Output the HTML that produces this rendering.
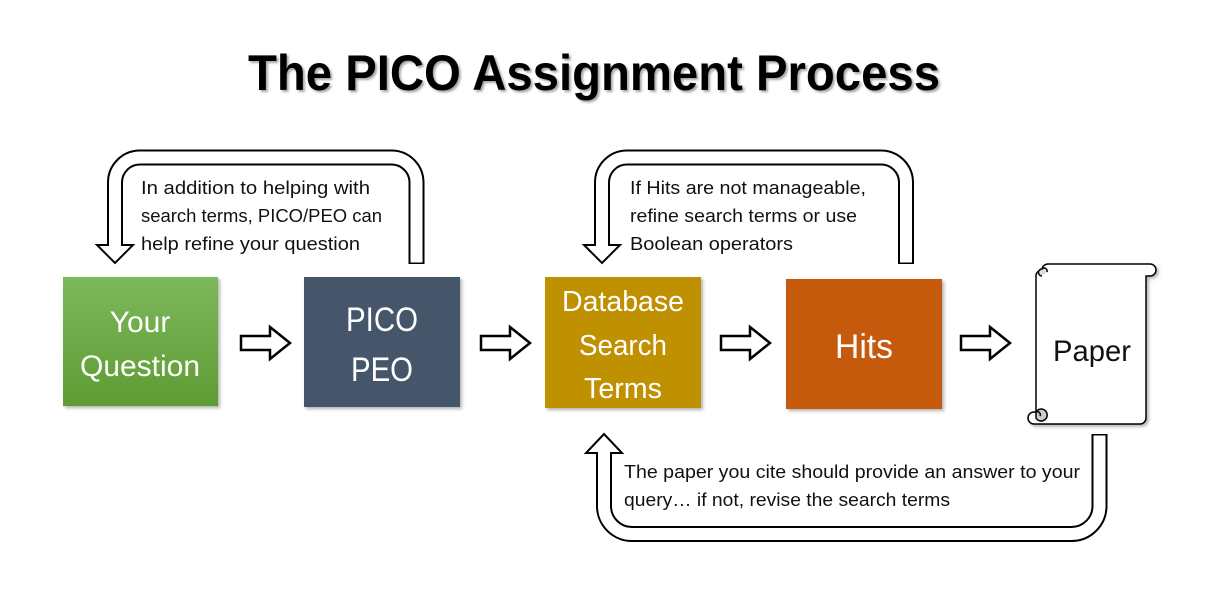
<!DOCTYPE html>
<html><head><meta charset="utf-8"><style>
html,body{margin:0;padding:0;background:#fff;}
svg{display:block;}
text{font-family:"Liberation Sans",sans-serif;}
</style></head><body>
<svg width="1215" height="591" viewBox="0 0 1215 591" xmlns="http://www.w3.org/2000/svg">
<defs>
<linearGradient id="g1" x1="0" y1="0" x2="0" y2="1"><stop offset="0" stop-color="#7db85c"/><stop offset="1" stop-color="#5e9b33"/></linearGradient>
<filter id="sh" x="-10%" y="-10%" width="130%" height="130%"><feDropShadow dx="2" dy="2" stdDeviation="1.5" flood-color="#000" flood-opacity="0.3"/></filter>
</defs>
<text x="594" y="90" text-anchor="middle" font-size="50" font-weight="bold" fill="#000" textLength="692" lengthAdjust="spacingAndGlyphs" style="filter:drop-shadow(2px 2px 1px rgba(0,0,0,0.35))">The PICO Assignment Process</text>

<!-- loop 1 -->
<path d="M416.5 264 V182 A25 25 0 0 0 391.5 157.5 H140 A25 25 0 0 0 115 182.5 V246" fill="none" stroke="#000" stroke-width="16"/>
<polygon points="97,245 133,245 115,263" fill="#fff" stroke="#000" stroke-width="2" stroke-linejoin="miter"/>
<path d="M416.5 262.5 V182 A25 25 0 0 0 391.5 157.5 H140 A25 25 0 0 0 115 182.5 V247" fill="none" stroke="#fff" stroke-width="12"/>

<!-- loop 2 -->
<path d="M906 264 V182 A25 25 0 0 0 881 157.5 H627 A25 25 0 0 0 602 182.5 V246" fill="none" stroke="#000" stroke-width="16"/>
<polygon points="584,245 620,245 602,263" fill="#fff" stroke="#000" stroke-width="2"/>
<path d="M906 262.5 V182 A25 25 0 0 0 881 157.5 H627 A25 25 0 0 0 602 182.5 V247" fill="none" stroke="#fff" stroke-width="12"/>

<!-- loop 3 -->
<path d="M1099.5 434 V506 A28 28 0 0 1 1071.5 534 H633 A28 28 0 0 1 604 506 V452" fill="none" stroke="#000" stroke-width="16"/>
<polygon points="586,453 622,453 604,434" fill="#fff" stroke="#000" stroke-width="2"/>
<path d="M1099.5 435.5 V506 A28 28 0 0 1 1071.5 534 H633 A28 28 0 0 1 604 506 V451" fill="none" stroke="#fff" stroke-width="12"/>

<!-- loop texts -->
<g font-size="18" fill="#111">
<text x="141" y="194" textLength="229" lengthAdjust="spacingAndGlyphs">In addition to helping with</text>
<text x="141" y="222" textLength="241" lengthAdjust="spacingAndGlyphs">search terms, PICO/PEO can</text>
<text x="141" y="250" textLength="219" lengthAdjust="spacingAndGlyphs">help refine your question</text>
<text x="630" y="194" textLength="236" lengthAdjust="spacingAndGlyphs">If Hits are not manageable,</text>
<text x="630" y="222" textLength="227" lengthAdjust="spacingAndGlyphs">refine search terms or use</text>
<text x="630" y="250" textLength="163" lengthAdjust="spacingAndGlyphs">Boolean operators</text>
<text x="624" y="478" textLength="456" lengthAdjust="spacingAndGlyphs">The paper you cite should provide an answer to your</text>
<text x="624" y="506" textLength="326" lengthAdjust="spacingAndGlyphs">query… if not, revise the search terms</text>
</g>

<!-- boxes -->
<rect x="63" y="277" width="155" height="129" fill="url(#g1)" filter="url(#sh)"/>
<rect x="304" y="277" width="156" height="130" fill="#44546a" filter="url(#sh)"/>
<rect x="545" y="277" width="156" height="131" fill="#bf9000" filter="url(#sh)"/>
<rect x="786" y="279" width="156" height="130" fill="#c55a11" filter="url(#sh)"/>
<g fill="#fff" text-anchor="middle">
<text x="140" y="332" font-size="30">Your</text>
<text x="140" y="376" font-size="30" textLength="120" lengthAdjust="spacingAndGlyphs">Question</text>
<text x="382" y="331" font-size="34" textLength="72" lengthAdjust="spacingAndGlyphs">PICO</text>
<text x="382" y="381" font-size="34" textLength="62" lengthAdjust="spacingAndGlyphs">PEO</text>
<text x="623" y="311" font-size="29" textLength="122" lengthAdjust="spacingAndGlyphs">Database</text>
<text x="623" y="355" font-size="29" textLength="88" lengthAdjust="spacingAndGlyphs">Search</text>
<text x="623" y="398" font-size="29" textLength="78" lengthAdjust="spacingAndGlyphs">Terms</text>
<text x="864" y="358" font-size="34" textLength="58" lengthAdjust="spacingAndGlyphs">Hits</text>
</g>

<!-- small arrows -->
<g fill="#fff" stroke="#000" stroke-width="2.5" stroke-linejoin="miter">
<polygon points="241,336 270,336 270,327 290,343 270,359 270,350 241,350"/>
<polygon points="481,336 510,336 510,327 530,343 510,359 510,350 481,350"/>
<polygon points="721,336 750,336 750,327 770,343 750,359 750,350 721,350"/>
<polygon points="961,336 990,336 990,327 1010,343 990,359 990,350 961,350"/>
</g>

<!-- paper scroll -->
<g stroke="#000" stroke-width="1.5" filter="url(#sh)">
<path d="M1042 270 A6 6 0 0 1 1048 264 H1150 A6 6 0 0 1 1150 276 H1146 V418 A6 6 0 0 1 1140 424 H1034 A6 6 0 0 1 1034 412 H1036 V276 A6 6 0 0 1 1042 270 Z" fill="#fff"/>
<path d="M1042 276 A3.5 3.5 0 0 1 1042 269 A3 3 0 0 1 1047 272" fill="#ddd"/>
<path d="M1036 418 A6 6 0 1 0 1036 412 Z" fill="#ccc"/>
<path d="M1036 412 A3 3 0 0 1 1040 416" fill="none"/>
</g>
<text x="1092" y="361" font-size="30" text-anchor="middle" fill="#111" textLength="78" lengthAdjust="spacingAndGlyphs">Paper</text>
</svg>
</body></html>
